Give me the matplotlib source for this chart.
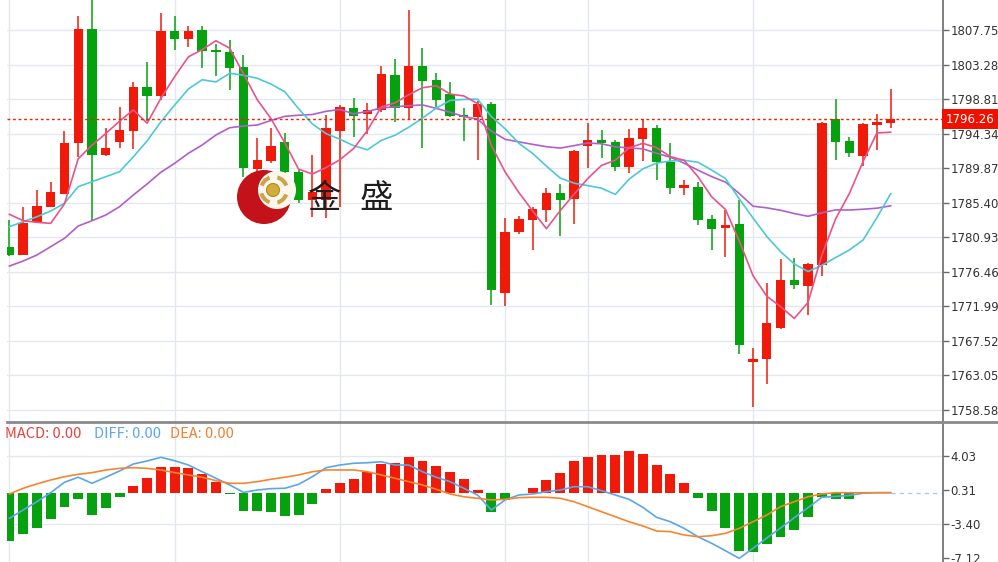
import matplotlib
matplotlib.use('Agg')
import matplotlib.pyplot as plt
import matplotlib.transforms as mtransforms
from matplotlib.patches import Circle, Wedge
from matplotlib.lines import Line2D
import numpy as np
import pandas as pd

# candle data
open_ = [1779.74, 1778.66, 1782.97, 1784.92, 1786.52, 1793.21, 1807.90, 1791.58, 1793.30, 1794.77,
         1800.39, 1799.30, 1807.68, 1806.65, 1807.81, 1805.22, 1805.00, 1803.06, 1789.76, 1790.88,
         1793.26, 1789.45, 1785.79, 1785.79, 1794.77, 1797.75, 1796.93, 1797.45, 1801.98, 1797.67,
         1803.19, 1801.33, 1799.52, 1796.80, 1796.50, 1798.19, 1773.70, 1781.68, 1783.19, 1784.49,
         1786.73, 1785.88, 1792.82, 1793.56, 1793.34, 1790.10, 1793.69, 1795.08, 1790.75, 1787.30,
         1787.43, 1783.32, 1782.12, 1782.68, 1764.83, 1765.14, 1769.16, 1775.42, 1774.68, 1777.36,
         1796.28, 1793.43, 1791.53, 1795.50, 1795.72]
high = [1783.20, 1784.92, 1787.08, 1788.16, 1794.73, 1809.63, 1812.30, 1795.15, 1797.87, 1801.04,
        1803.71, 1809.98, 1809.67, 1808.33, 1808.33, 1806.00, 1806.52, 1804.57, 1793.78, 1795.08,
        1794.43, 1789.67, 1791.62, 1796.80, 1798.10, 1798.96, 1798.32, 1803.19, 1804.06, 1810.40,
        1805.52, 1802.20, 1801.11, 1797.75, 1798.61, 1798.52, 1783.41, 1783.71, 1784.92, 1787.38,
        1787.82, 1792.27, 1795.80, 1794.86, 1793.56, 1794.95, 1796.28, 1795.50, 1793.21, 1788.38,
        1788.16, 1783.84, 1784.49, 1785.79, 1766.57, 1774.99, 1778.10, 1778.31, 1777.66, 1795.89,
        1798.87, 1793.91, 1795.72, 1796.89, 1800.13]
low = [1778.53, 1778.60, 1782.93, 1784.90, 1786.50, 1791.40, 1783.07, 1791.50, 1792.48, 1792.39,
       1796.06, 1798.74, 1805.22, 1805.65, 1802.85, 1801.85, 1800.04, 1788.80, 1782.94, 1790.58,
       1788.38, 1785.40, 1783.58, 1783.45, 1784.92, 1793.99, 1794.34, 1797.19, 1795.93, 1796.24,
       1792.48, 1797.80, 1796.54, 1793.47, 1790.97, 1772.18, 1772.05, 1781.34, 1779.31, 1782.97,
       1781.12, 1782.68, 1789.97, 1791.19, 1789.58, 1789.32, 1790.88, 1788.38, 1786.52, 1786.43,
       1782.55, 1779.31, 1778.36, 1765.83, 1759.00, 1761.95, 1769.07, 1774.21, 1770.89, 1775.94,
       1790.97, 1791.40, 1790.19, 1792.26, 1795.08]
close = [1778.66, 1782.84, 1785.01, 1786.82, 1793.13, 1807.90, 1791.58, 1792.56, 1794.86, 1800.39,
         1799.30, 1807.68, 1806.61, 1807.68, 1805.13, 1805.00, 1802.85, 1789.97, 1790.97, 1792.82,
         1789.38, 1785.79, 1786.82, 1795.11, 1797.87, 1796.71, 1797.45, 1802.07, 1797.75, 1803.15,
         1801.24, 1798.74, 1796.71, 1796.50, 1798.19, 1774.12, 1781.60, 1783.32, 1784.58, 1786.73,
         1785.79, 1792.14, 1793.56, 1793.13, 1790.10, 1793.78, 1795.08, 1790.75, 1787.30, 1787.73,
         1783.19, 1782.03, 1782.55, 1767.00, 1765.18, 1769.81, 1775.42, 1774.77, 1777.45, 1795.72,
         1793.34, 1791.84, 1795.59, 1795.85, 1796.26]

# moving average values at the left edge (earlier bars are off screen)
ma5_head = [1783.93, 1783.10, 1782.89, 1782.76]
ma10_head = [1782.33, 1782.97, 1783.62, 1784.36, 1785.36, 1787.51, 1788.16, 1788.80, 1789.45]
ma20_head = [1777.23, 1777.88, 1778.66, 1779.74, 1780.82, 1782.42, 1783.10, 1783.84, 1784.92,
             1786.43, 1787.86, 1789.38, 1790.54, 1791.84, 1792.91, 1794.21, 1795.15, 1795.37,
             1795.50]

# MACD panel
macd_hist = [-5.22, -4.49, -3.81, -2.86, -1.59, -0.72, -2.43, -1.63, -0.50, 0.76,
             1.57, 2.80, 2.80, 2.65, 2.00, 1.13, -0.14, -1.96, -1.99, -2.13,
             -2.54, -2.39, -1.26, 0.37, 1.05, 1.52, 2.28, 3.12, 3.20, 3.88,
             3.48, 2.94, 2.28, 1.52, 0.29, -2.13, -0.83, -0.07, 0.51, 1.38,
             2.18, 3.42, 3.88, 4.07, 4.07, 4.50, 4.18, 3.05, 2.03, 1.02,
             -0.54, -1.99, -3.81, -6.31, -6.42, -5.61, -4.79, -4.06, -2.61, -0.44,
             -0.72, -0.65, 0.0, 0.0, 0.0]
diff = [-2.79, -1.88, -0.98, 0.00, 1.13, 1.68, 1.02, 1.68, 2.36, 3.12,
        3.45, 3.85, 3.48, 3.01, 2.28, 1.57, 0.84, 0.04, 0.29, 0.44,
        0.48, 0.91, 1.74, 2.72, 3.01, 3.20, 3.26, 3.37, 3.01, 3.01,
        2.28, 1.68, 1.20, 0.48, -0.25, -1.88, -0.79, -0.25, -0.14, 0.11,
        0.29, 0.65, 0.65, 0.22, -0.25, -0.72, -1.59, -2.68, -3.16, -3.88,
        -4.79, -5.51, -6.31, -7.14, -6.05, -4.93, -3.84, -2.72, -1.63, -0.50,
        -0.40, -0.30, -0.05, 0.00, 0.00]
dea = [-0.14, 0.48, 0.95, 1.38, 1.74, 2.00, 2.18, 2.47, 2.65, 2.72,
       2.65, 2.47, 2.18, 1.93, 1.68, 1.31, 1.02, 1.02, 1.20, 1.46,
       1.68, 1.93, 2.28, 2.47, 2.47, 2.47, 2.28, 1.93, 1.57, 1.20,
       0.84, 0.37, -0.14, -0.44, -0.61, -0.79, -0.72, -0.54, -0.50, -0.50,
       -0.61, -0.98, -1.52, -2.07, -2.61, -3.16, -3.62, -4.17, -4.24, -4.60,
       -4.79, -4.68, -4.42, -3.88, -3.16, -2.43, -1.52, -0.98, -0.44, -0.14,
       0.0, 0.0, 0.0, 0.0, 0.0]

price_ticks = [1758.58, 1763.05, 1767.52, 1771.99, 1776.46, 1780.93, 1785.40,
               1789.87, 1794.34, 1798.81, 1803.28, 1807.75]
macd_ticks = [4.03, 0.31, -3.40, -7.12]
vgrid_idx = [0, 12, 24, 36, 42, 54]

RED = '#f01a0a'
GREEN = '#06a10e'
GRID = '#e4e8ee'

n = len(close)
x = np.arange(n)
o = np.array(open_); c = np.array(close)
cs = pd.Series(close)
ma5 = np.concatenate([ma5_head, cs.rolling(5).mean().values[len(ma5_head):]])
ma10 = np.concatenate([ma10_head, cs.rolling(10).mean().values[len(ma10_head):]])
ma20 = np.concatenate([ma20_head, cs.rolling(20).mean().values[len(ma20_head):]])

W, H = 998, 562
fig = plt.figure(figsize=(W / 100, H / 100), dpi=100)
ax = fig.add_axes([7 / W, 1 - 422 / H, 936 / W, 422 / H])
ax2 = fig.add_axes([7 / W, 0, 936 / W, 140 / H], sharex=ax)

xlim = (-0.174, 67.8)

for a in (ax, ax2):
    for s in ('top', 'left', 'bottom'):
        a.spines[s].set_visible(False)
    a.spines['right'].set_color('#6a6a6a')
    a.spines['right'].set_linewidth(1.2)
    a.yaxis.tick_right()
    a.tick_params(axis='y', length=4, width=1, color='#6a6a6a', labelsize=8.5,
                  labelcolor='#333333', pad=1.5)
    a.tick_params(axis='x', length=0, labelbottom=False)
    a.set_xticks([])
    for v in vgrid_idx:
        a.axvline(v, color=GRID, lw=1, zorder=0)

# main panel
ax.set_xlim(*xlim)
ax.set_ylim(1757.02, 1811.70)
ax.set_yticks(price_ticks)
ax.set_yticklabels([f'{t:.2f}' for t in price_ticks])
for t in price_ticks:
    ax.axhline(t, color=GRID, lw=1, zorder=0)
ax.text(1.0, 1812.22, ' -1812.22', transform=mtransforms.blended_transform_factory(ax.transAxes, ax.transData),
        fontsize=8.5, color='#333333', va='center', ha='left', clip_on=False)

colors = [RED if c[i] >= o[i] else GREEN for i in range(n)]
ax.vlines(x, low, high, colors=colors, lw=1.1, zorder=2)
body_bottom = np.minimum(o, c)
body_h = np.maximum(np.abs(c - o), 0.18)
ax.bar(x, body_h, bottom=body_bottom, width=0.68, color=colors, zorder=3, linewidth=0)

ax.plot(x, ma20, color='#b15fc9', lw=1.2, zorder=4)
ax.plot(x, ma10, color='#4ec8d6', lw=1.2, zorder=4)
ax.plot(x, ma5, color='#e9538b', lw=1.2, zorder=4)

last = close[-1]
ax.axhline(last, color='#ee2200', lw=1, ls=(0, (2, 2)), zorder=5)
ax.text(1.003, last, f'{last:.2f}', transform=mtransforms.blended_transform_factory(ax.transAxes, ax.transData),
        color='white', fontsize=8.5, va='center', ha='left', zorder=10, clip_on=False,
        bbox=dict(boxstyle='square,pad=0.3', fc='#ee1100', ec='none'))

# MACD panel
ax2.set_ylim(-7.54, 7.69)
ax2.set_yticks(macd_ticks)
ax2.set_yticklabels([f'{t:.2f}' for t in macd_ticks])
for t in [4.03, -3.40]:
    ax2.axhline(t, color=GRID, lw=1, zorder=0)
hcol = [RED if v > 0 else GREEN for v in macd_hist]
ax2.bar(x, macd_hist, width=0.72, color=hcol, linewidth=0, zorder=2)
ax2.plot(x, diff, color='#5aa6e8', lw=1.2, zorder=3)
ax2.plot(x, dea, color='#f5852f', lw=1.2, zorder=3)
ax2.plot([x[-1], xlim[1]], [0, 0], color='#a9c9e9', lw=1, ls=(0, (3, 3)), zorder=1)

lbl_font = ['Noto Sans CJK SC', 'DejaVu Sans']
ty = 1 - 434 / H
fig.text(5 / W, ty, 'MACD: 0.00', color='#e8403a', fontsize=10.5, va='center', family=lbl_font)
fig.text(94 / W, ty, 'DIFF: 0.00', color='#5aa6e8', fontsize=10.5, va='center', family=lbl_font)
fig.text(170 / W, ty, 'DEA: 0.00', color='#f08030', fontsize=10.5, va='center', family=lbl_font)

# panel separator
fig.add_artist(Line2D([7 / W, 1], [1 - 422 / H, 1 - 422 / H], color='#8a8a8a', lw=2,
                      transform=fig.transFigure))

# watermark logo
lax = fig.add_axes([234 / W, 1 - 230 / H, 64 / W, 64 / H])
lax.set_xlim(234, 298)
lax.set_ylim(230, 166)
lax.axis('off')
lax.add_patch(Circle((264, 197), 27, fc='#c4121b', ec='none'))
lax.add_patch(Circle((277, 190), 19, fc='#fbf6ec', ec='none'))
for a1, a2 in [(20, 75), (110, 165), (200, 250), (285, 340)]:
    lax.add_patch(Wedge((274, 190), 15, a1, a2, width=4, fc='#c9a449', ec='none'))
lax.add_patch(Circle((273, 190), 6.5, fc='#d2ad3a', ec='#b08a25', lw=0.8))

cjk = ['Noto Sans CJK SC', 'DejaVu Sans']
fig.text(323.5 / W, 1 - 198 / H, '金', fontsize=24, color='#1e1e1e', ha='center', va='center', family=cjk)
fig.text(376.5 / W, 1 - 198 / H, '盛', fontsize=24, color='#1e1e1e', ha='center', va='center', family=cjk)

fig.savefig('out.png', dpi=100)
